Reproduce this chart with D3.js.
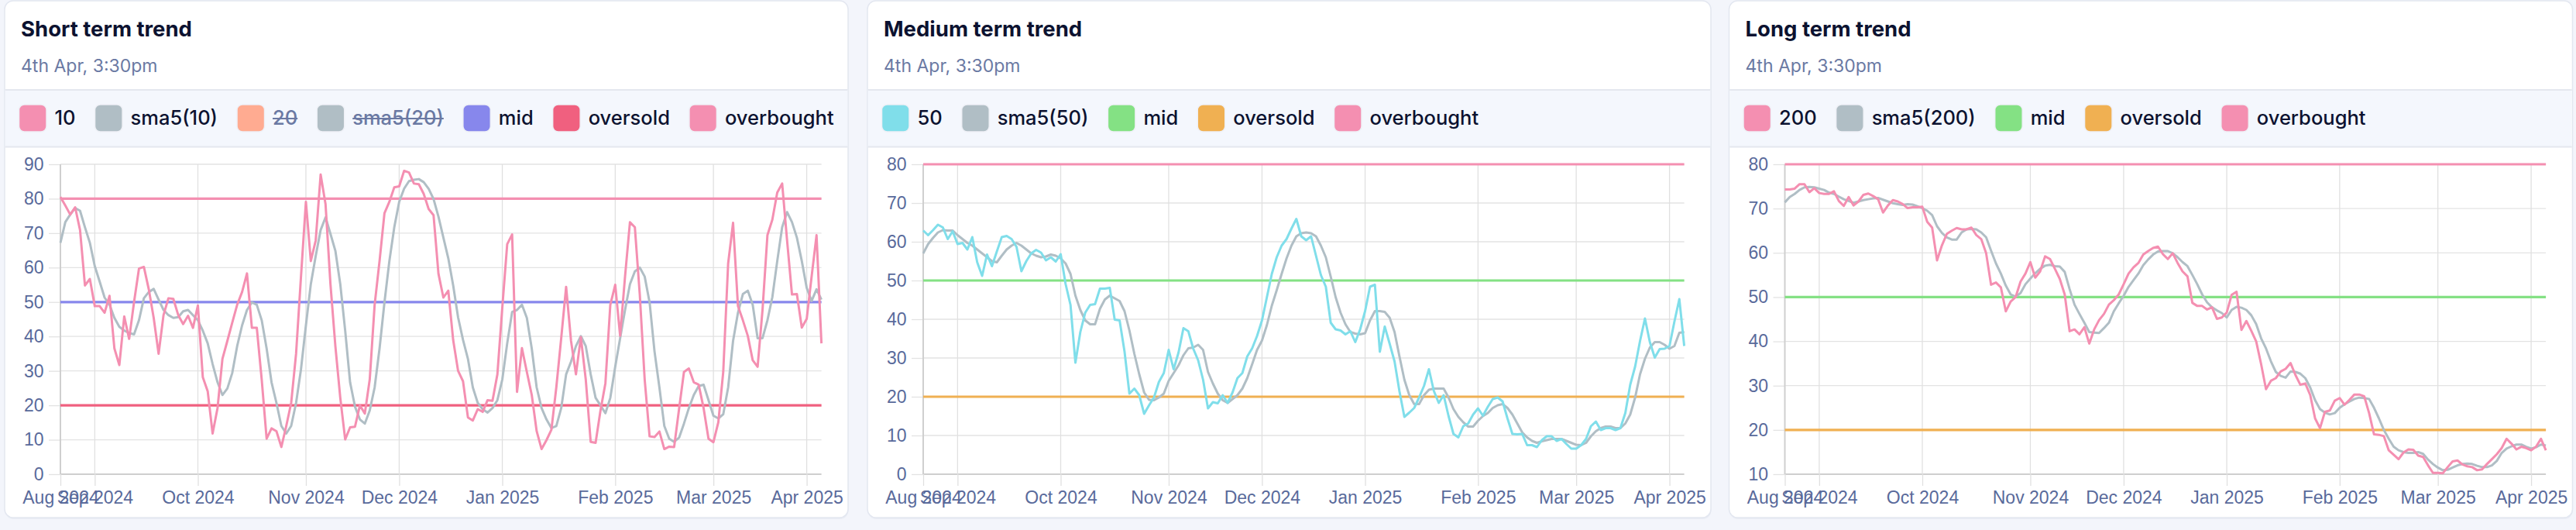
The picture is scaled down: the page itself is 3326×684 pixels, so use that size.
<!DOCTYPE html>
<html><head><meta charset="utf-8">
<script src="https://cdn.jsdelivr.net/npm/d3@7"></script>
<style>
html,body{margin:0;padding:0;background:#f3f5fb;}
svg{display:block;}
</style></head>
<body>
<svg id="chart" width="3326" height="684"></svg>
<script>
// ---------- data ----------
const monthLabels = ["Aug 2024","Sep 2024","Oct 2024","Nov 2024","Dec 2024","Jan 2025","Feb 2025","Mar 2025","Apr 2025"];
const monthTickIndex = [0,7,28,50,69,90,113,133,152];
const pointCount = 156;

const shortTicks = [0,10,20,30,40,50,60,70,80,90];
const mediumTicks = [0,10,20,30,40,50,60,70,80];
const longTicks = [10,20,30,40,50,60,70,80];

const refMid = 50, refOversold = 20, refOverbought = 80;

const short10 = [80.5,78,75.4,77.5,70.9,54.8,56.7,48.8,48.8,46.9,51.8,36.5,31.7,45.8,39.3,50,59.7,60.2,53.7,45.4,
35,46.2,51.1,50.9,46.2,43.6,46,42.5,49,28.2,24.1,11.8,19.2,33.5,38.7,44,49.2,52.9,58.3,42.5,
42.5,27.5,10.3,13.3,12.5,7.9,14,20.7,35,57.4,79.1,61.9,67.9,87,78.4,55.2,37.2,22.2,10.1,13.6,
13.8,20,17.6,27.5,49.2,61.9,75.8,79.1,83.3,83.6,88.1,87.6,84.4,84.2,81.4,77,75.2,58.2,51.3,53.3,
38.9,30,27,16.5,15.6,18.9,18.1,21.5,21.3,29,48.4,66.8,69.6,23.9,36.6,29.7,23,12.5,7.3,9.9,
12.9,25.2,39.5,54.4,38.7,29,39.8,27.5,9.4,9.1,18.5,26.4,49.2,55,40.2,57.4,73.2,71.7,52.2,27.5,
11,10.8,12.4,7.3,8,7.9,18.9,29.7,30.7,26.7,26,19.2,10.3,9.3,15.1,29.7,61.2,73,48.8,44.7,
40.2,33.1,31.2,47.7,69.4,73.9,81.8,84.4,67.9,52.2,52.3,42.6,45.1,57.4,69.4,38];
const shortSma = [67.2,73.2,75.4,77.3,76.5,71.7,67.2,60.4,55.9,51.3,49.2,45.4,42.8,41.7,41,40.6,44.7,51.1,52.9,53.8,
50.7,47.7,46.2,45.4,45.6,47.3,47.7,46.2,44.7,41.7,38,32,26.7,23,24.9,29.4,37.2,43.2,47.7,49.9,
49.2,44.7,36.5,26.7,20.7,14,11.8,14,20.7,30.5,43.2,55.2,63.4,70.9,74.6,69.8,64.9,55.2,41.7,26.7,
19.6,15.9,14.7,18.5,25.2,36.5,49.9,61.9,71.7,79.1,82.9,85.1,85.5,85.7,84.8,82.9,79.9,74.8,68.7,62.7,
54.8,45.5,39,33.5,25.2,20.7,18.9,17.9,19.2,21.5,27.5,38,47.1,47.7,49.2,45.4,36.5,25.2,19.2,15.9,
13.4,14,19.2,29,32.7,37.2,40.1,37.2,29,22.2,20,17.7,22.2,31.2,39.5,47.7,55.2,58.9,60,57.4,
49.9,35.7,25.2,14,10.3,9.4,10.6,14.7,19.2,23,25.6,26,21.5,17,16.2,17.4,25.2,38.7,46.9,52.3,
53.3,49.2,39.5,39.5,44.7,51.4,61.9,71.7,76.1,73.2,68.7,61.9,54.1,50.3,53.7,50.7];

const medium50 = [62.9,61.7,63,64.4,63.7,60.7,62.7,59.4,59.7,58,61.2,54.7,51.2,56.7,53.7,57.5,61.2,61.5,60.7,58.7,
52.4,55,57,57.9,57.2,55.2,56,54.9,56.8,49.1,43.7,28.8,36.7,41.7,43.7,43.9,47.9,47.9,48.1,39.9,
39.7,31.7,20.8,22.1,20.4,15.6,17.8,19.8,23.8,26.1,32.1,27.1,31.4,37.7,36.9,32.4,29.4,24.4,17,18.6,
18.3,20.4,18.4,21.1,24.8,26.1,30.4,32.5,35.7,39.7,45.7,51.7,56,59,60.7,63.4,65.9,61.4,60.4,61.4,
56.4,51.4,48.4,39.1,37.4,37.1,36.1,36.9,34.1,37.4,42.1,48.4,48.9,31.6,38.1,33.7,29.1,21.4,14.8,15.9,
17.1,19.8,22.8,27.1,21.5,18.4,20.4,15,10.4,9.5,12.4,13.1,15.4,17,15.1,17.4,19.4,19.8,18.8,14.4,
10.4,10.3,10.4,7.5,7.5,7,8.8,9.8,9.8,8.6,9.1,7.8,6.6,6.6,7.5,9.1,12.4,13.6,11.4,11.9,
11.9,11.4,11.9,15.8,23.1,27.8,34.4,40.2,34.1,30.1,32.3,32.4,33.1,39.4,45.2,33.1];
const mediumSma = [57,59.4,61,62.4,63,62.9,62.9,61.7,60.7,59.7,59,58,57,56,55,54.7,56.4,58,59,59.7,
59,58,57,56.4,56,56.2,56.7,56.4,55.7,54.4,51.7,46.1,42.4,39.7,38.7,38.7,42.7,45.1,46.1,45.4,
44.7,42.1,37.1,31.1,25.8,21.1,19.2,19.1,19.8,20.8,24.1,26.1,28.1,30.7,32.5,32.7,33.4,32.1,26.4,23.4,
20.8,19.1,18.4,19.4,20.4,22.1,24.8,28.4,32.1,34.5,38.5,43.5,47.5,51.7,55.7,59,61.4,62.2,62.4,62.2,
61.4,59,56,51,45.7,41.7,38.7,36.7,36.3,36.1,36.4,39.7,42.1,42.1,41.9,40.4,36.7,30.4,24.4,20.4,
18.1,18.1,20.4,21.8,22.1,22.1,22.1,19.8,16.8,14.8,13.4,12.3,12.3,13.8,15,15.8,17.1,17.8,18.1,17.1,
15.4,13.1,10.8,9.5,8.6,8.1,8.5,8.8,9.1,9.1,9.1,8.6,8.1,7.6,7.5,8.1,9.8,11.1,11.9,12.3,
12.3,11.9,11.9,13.1,15.4,19.8,25.8,29.8,32.7,34.1,34.1,33.4,32.4,33.1,36.5,36.7];

const long200 = [74.3,74.3,74.5,75.5,75.5,73.7,74.6,73.5,73.3,73.3,73.9,71.7,70.6,72.6,70.7,71.6,73.1,73.4,72.8,72.1,
69.1,70.7,71.9,71.6,71,70.1,70.3,70.3,70.4,67,65.7,58.3,61.7,64.3,65,65.6,65.3,65.3,65.7,64,
63.1,59.9,52.8,53.3,52.2,46.8,49,50,53.5,55.3,57.9,54.4,55.8,59.2,58.6,56.4,54.1,50.6,42.3,42.7,
41.6,43.2,39.5,42.7,44.8,46.2,48.3,49.3,50.6,52.9,55.3,56.7,57.7,59.6,60.4,61.1,61.4,59.7,58.6,59.9,
57.7,55.8,54.7,48.7,48,48,47.2,47.7,45.1,45.4,46.5,50.5,51.2,42.6,44.6,42.4,40,34.9,29.2,31.1,
31.7,33.2,33.8,35.1,32.4,30.2,30.5,27.9,22.6,20.4,24.1,24.4,26.6,27.2,25.7,26.8,28,28,27.6,23.8,
19,18.9,18.6,15.4,14.4,13.4,14.9,15.6,15.5,14.2,13.9,12,10.3,10.3,10.2,11.6,12.9,13.1,12.2,11.8,
11.6,10.9,11.1,12.3,13.4,14.5,15.9,18,16.9,15.6,16.2,15.9,15.4,16.2,18,15.4];
const longSma = [71.4,72.6,73.3,74.2,74.8,74.9,74.8,74.5,74.2,73.6,73.3,72.7,72.1,71.7,71.3,71.6,71.9,72.1,72.3,72.4,
72,71.6,71.2,71,70.8,71,70.9,70.5,70.1,69.5,68.5,66,64.5,63.5,63,63,64.6,65.3,65.4,65.3,
64.6,63.5,60.5,57.6,55.3,52.6,50.6,50.1,50.9,52.9,54.2,55.4,56.4,57.1,57.3,57,56.9,55.7,51.8,48.3,
46.2,44.2,42.1,42,41.9,43,44.2,46.8,48.6,50.3,52.3,53.8,55.3,57.2,58.5,59.6,60.3,60.4,60.4,59.9,
59,57.9,57,55,52.9,50.6,48.8,47.7,47,46.4,45.4,47.1,47.8,47.6,47.1,45.9,43.9,40.7,38.4,35.5,
33.1,32.2,31.8,33.2,33.1,32.7,31.7,29.6,26.7,24.7,23.9,23.5,23.8,25,25.8,26.4,27,27.3,27.2,27,
25,22.6,20,18,16.2,15.4,15,14.8,14.8,15,14.6,13.3,12.3,11.5,10.9,11,11.5,12,12.3,12.4,
12.3,11.9,11.6,11.6,12,13,14.8,15.8,16.3,16.7,16.7,16.2,15.8,16.1,16.7,16.5];

// ---------- panel definitions ----------
const panels = [
  { title:"Short term trend", sub:"4th Apr, 3:30pm", x:6, yTicks:shortTicks, yDomain:[0,90],
    series:short10, sma:shortSma, seriesColor:"#f48fb1", smaColor:"#b0bec5",
    midColor:"#8787ec", oversoldColor:"#f0607f", overboughtColor:"#f48fb1",
    legend:[["10","#f48fb1",false],["sma5(10)","#b0bec5",false],["20","#ffab91",true],["sma5(20)","#b0bec5",true],
            ["mid","#8787ec",false],["oversold","#f0607f",false],["overbought","#f48fb1",false]] },
  { title:"Medium term trend", sub:"4th Apr, 3:30pm", x:1120, yTicks:mediumTicks, yDomain:[0,80],
    series:medium50, sma:mediumSma, seriesColor:"#80deea", smaColor:"#b0bec5",
    midColor:"#84e184", oversoldColor:"#f0b052", overboughtColor:"#f48fb1",
    legend:[["50","#80deea",false],["sma5(50)","#b0bec5",false],["mid","#84e184",false],
            ["oversold","#f0b052",false],["overbought","#f48fb1",false]] },
  { title:"Long term trend", sub:"4th Apr, 3:30pm", x:2232.5, yTicks:longTicks, yDomain:[10,80],
    series:long200, sma:longSma, seriesColor:"#f48fb1", smaColor:"#b0bec5",
    midColor:"#84e184", oversoldColor:"#f0b052", overboughtColor:"#f48fb1",
    legend:[["200","#f48fb1",false],["sma5(200)","#b0bec5",false],["mid","#84e184",false],
            ["oversold","#f0b052",false],["overbought","#f48fb1",false]] }
];

const svg = d3.select("#chart");
const CARD_W = 1089, CARD_TOP = 1, CARD_H = 667;
const PLOT_TOP = 212, PLOT_BOTTOM = 612;
const TICK_FONT = "'Liberation Sans', Arial, Helvetica, sans-serif";
const UI_FONT = "Inter, 'Noto Sans', sans-serif";
const TICK_COLOR = "#596a9b";

panels.forEach(p => {
  const g = svg.append("g");
  const cx = p.x;

  // card
  g.append("rect").attr("x", cx+0.5).attr("y", CARD_TOP+2).attr("width", CARD_W).attr("height", CARD_H)
    .attr("rx", 11).attr("fill", "#e9ecf4");
  g.append("rect").attr("x", cx).attr("y", CARD_TOP).attr("width", CARD_W).attr("height", CARD_H)
    .attr("rx", 11).attr("fill", "#ffffff").attr("stroke", "#e3e7f0").attr("stroke-width", 1.5);

  // legend band
  g.append("rect").attr("x", cx+0.75).attr("y", 116).attr("width", CARD_W-1.5).attr("height", 73)
    .attr("fill", "#f4f7fd");
  g.append("line").attr("x1", cx+0.75).attr("x2", cx+CARD_W-0.75).attr("y1", 116).attr("y2", 116)
    .attr("stroke", "#e4e7ef").attr("stroke-width", 2);
  g.append("line").attr("x1", cx+0.75).attr("x2", cx+CARD_W-0.75).attr("y1", 189.5).attr("y2", 189.5)
    .attr("stroke", "#e4e7ef").attr("stroke-width", 2);

  // title & subtitle
  g.append("text").attr("x", cx+21).attr("y", 47).text(p.title)
    .attr("font-family", UI_FONT).attr("font-weight", 700).attr("font-size", 27.5).attr("fill", "#0c1230");
  g.append("text").attr("x", cx+21).attr("y", 93).text(p.sub)
    .attr("font-family", UI_FONT).attr("font-weight", 400).attr("font-size", 23).attr("fill", "#6a79a3");

  // legend
  let lx = cx + 18.5;
  p.legend.forEach(([label, color, hidden]) => {
    g.append("rect").attr("x", lx).attr("y", 135).attr("width", 35.5).attr("height", 35)
      .attr("rx", 7).attr("fill", color).attr("stroke", "#eef0f6").attr("stroke-width", 1.5);
    const t = g.append("text").attr("x", lx + 46).attr("y", 161).text(label)
      .attr("font-family", UI_FONT).attr("font-weight", 500).attr("font-size", 25.5)
      .attr("fill", hidden ? "#6a79a3" : "#0c1230");
    const w = t.node().getComputedTextLength();
    if (hidden) {
      g.append("line").attr("x1", lx+46).attr("x2", lx+46+w).attr("y1", 153).attr("y2", 153)
        .attr("stroke", "#6a79a3").attr("stroke-width", 1.8);
    }
    lx += 46 + w + 25;
  });

  // scales
  const x = d3.scaleLinear().domain([0, pointCount-1]).range([cx+72, cx+1054.6]);
  const y = d3.scaleLinear().domain(p.yDomain).range([PLOT_BOTTOM, PLOT_TOP]);

  // horizontal grid + y ticks
  const yAxis = d3.axisLeft(y).tickValues(p.yTicks).tickSize(15).tickPadding(6.5).tickFormat(d3.format("d"));
  const ya = g.append("g").attr("transform", `translate(${cx+72},0)`).call(yAxis);
  ya.select(".domain").remove();
  ya.selectAll(".tick line").attr("stroke", "#e3e3e3").attr("stroke-width", 1.3);
  ya.selectAll(".tick text").attr("font-family", TICK_FONT).attr("font-size", 23).attr("fill", TICK_COLOR);
  g.selectAll(null).data(p.yTicks).enter().append("line")
    .attr("x1", cx+72).attr("x2", cx+1054.6)
    .attr("y1", d => y(d)).attr("y2", d => y(d))
    .attr("stroke", (d,i) => i === 0 ? "#cfcfcf" : "#e3e3e3")
    .attr("stroke-width", (d,i) => i === 0 ? 2 : 1.3);

  // vertical grid + x ticks
  const xAxis = d3.axisBottom(x).tickValues(monthTickIndex).tickSize(15).tickPadding(7)
    .tickFormat((d,i) => monthLabels[i]);
  const xa = g.append("g").attr("transform", `translate(0,${PLOT_BOTTOM})`).call(xAxis);
  xa.select(".domain").remove();
  xa.selectAll(".tick line").attr("stroke", "#e0e0e0").attr("stroke-width", 1.3);
  xa.selectAll(".tick text").attr("font-family", TICK_FONT).attr("font-size", 23).attr("fill", TICK_COLOR);
  g.selectAll(null).data(monthTickIndex).enter().append("line")
    .attr("x1", d => x(d)).attr("x2", d => x(d))
    .attr("y1", PLOT_TOP).attr("y2", PLOT_BOTTOM)
    .attr("stroke", (d,i) => i === 0 ? "#cfcfcf" : "#e0e0e0")
    .attr("stroke-width", (d,i) => i === 0 ? 2 : 1.3);

  // reference lines (drawn beneath the series)
  const refs = [[refOverbought, p.overboughtColor],[refOversold, p.oversoldColor],[refMid, p.midColor]];
  refs.forEach(([v, c]) => {
    g.append("line").attr("x1", x(0)).attr("x2", x(pointCount-1))
      .attr("y1", y(v)).attr("y2", y(v)).attr("stroke", c).attr("stroke-width", 3.2);
  });

  const line = d3.line().x((d,i) => x(i)).y(d => y(d));
  g.append("path").datum(p.sma).attr("d", line).attr("fill", "none")
    .attr("stroke", p.smaColor).attr("stroke-width", 3).attr("stroke-linejoin", "round");
  g.append("path").datum(p.series).attr("d", line).attr("fill", "none")
    .attr("stroke", p.seriesColor).attr("stroke-width", 3).attr("stroke-linejoin", "round");
});
</script>
</body></html>
